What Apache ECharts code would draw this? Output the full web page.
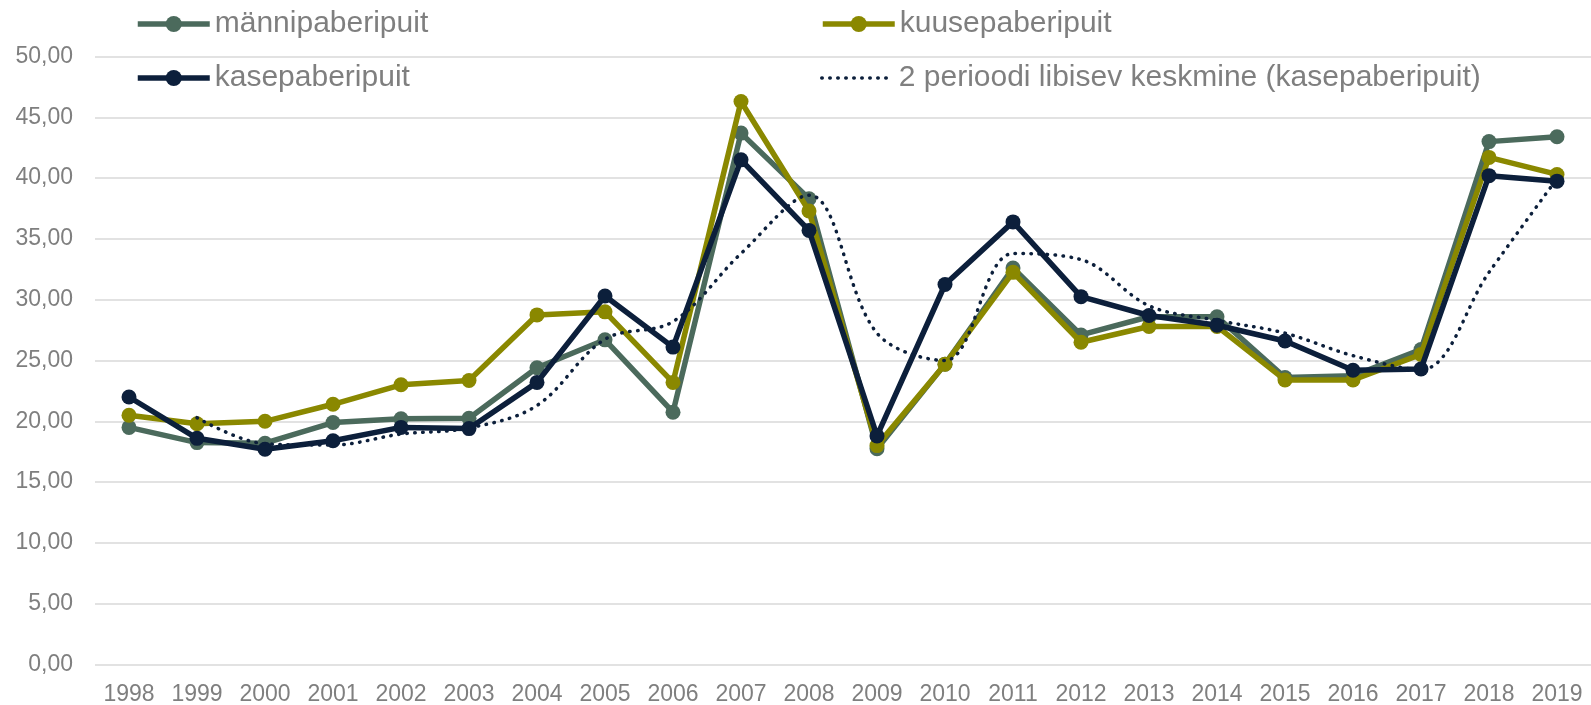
<!DOCTYPE html>
<html><head><meta charset="utf-8">
<script src="https://cdn.jsdelivr.net/npm/echarts@6/dist/echarts.min.js"></script>
<style>html,body{margin:0;padding:0;background:#fff}#c{width:1591px;height:705px}</style>
</head><body><div id="c"></div>
<script>
const years = ['1998','1999','2000','2001','2002','2003','2004','2005','2006','2007','2008','2009','2010','2011','2012','2013','2014','2015','2016','2017','2018','2019'];
const manni = [19.5,18.25,18.2,19.9,20.2,20.25,24.4,26.7,20.75,43.7,38.3,17.75,24.7,32.6,27.1,28.6,28.6,23.6,23.75,25.9,43.0,43.4];
const kuuse = [20.5,19.8,20.0,21.4,23.0,23.35,28.75,29.0,23.2,46.3,37.3,18.0,24.7,32.25,26.5,27.8,27.8,23.4,23.4,25.5,41.7,40.3];
const kase = [22.0,18.6,17.7,18.4,19.5,19.4,23.2,30.3,26.1,41.5,35.7,18.8,31.25,36.4,30.25,28.7,27.9,26.6,24.2,24.3,40.2,39.75];
const kaseAvg = [null,20.3,18.15,18.05,18.95,19.45,21.3,26.75,28.2,33.8,38.6,27.25,25.0,33.8,33.3,29.5,28.3,27.25,25.4,24.25,32.25,39.95];
const names = ['männipaberipuit','kuusepaberipuit','kasepaberipuit','2 perioodi libisev keskmine (kasepaberipuit)'];
const colors = ['#4b6a5c','#8a8800','#0c1f3b','#0c1f3b'];

const font = "'Liberation Sans', Arial, sans-serif";
const textColor = '#7f7f7f';
function legendAt(name, left, top, dotted){
  return {data:[name], left:left, top:top, padding:0, itemWidth:72, itemHeight:20, itemGap:0,
    itemStyle: dotted ? {opacity:0} : {},
    lineStyle: dotted ? {width:3.5, type:[0.5,7.5], cap:'round'} : {width:5.5},
    textStyle:{fontFamily:font, fontSize:30, color:textColor}};
}
const chart = echarts.init(document.getElementById('c'));
function lineSeries(i, data, z){
  return {name:names[i], type:'line', data:data, z:z, symbol:'circle', symbolSize:15,
    itemStyle:{color:colors[i]}, lineStyle:{color:colors[i], width:5.5}, emphasis:{disabled:true}};
}
chart.setOption({
  animation:false,
  color:colors,
  legend:[legendAt(names[0],135,9), legendAt(names[1],820,9), legendAt(names[2],135,63), legendAt(names[3],820,63,true)],
  grid:{left:95, right:0, top:56.5, bottom:40.5, containLabel:false, outerBoundsMode:'none'},
  xAxis:{type:'category', data:years, boundaryGap:true,
    axisLine:{show:false}, axisTick:{show:false},
    axisLabel:{fontFamily:font, fontSize:23, color:textColor, margin:19, interval:0}},
  yAxis:{type:'value', min:0, max:50, interval:5,
    axisLine:{show:false}, axisTick:{show:false},
    splitLine:{lineStyle:{color:'#d9d9d9', width:1.5}},
    axisLabel:{fontFamily:font, fontSize:23, color:textColor, margin:22,
      formatter:v=>v.toFixed(2).replace('.',',')}},
  series:[
    lineSeries(0, manni, 2),
    lineSeries(1, kuuse, 3),
    lineSeries(2, kase, 4),
    {name:names[3], type:'line', data:kaseAvg, z:5, smooth:0.35, symbol:'none', connectNulls:false,
      itemStyle:{color:colors[3]},
      lineStyle:{color:colors[3], width:3.5, type:[0.5,7.5], cap:'round'}, emphasis:{disabled:true}}
  ]
});
</script></body></html>
